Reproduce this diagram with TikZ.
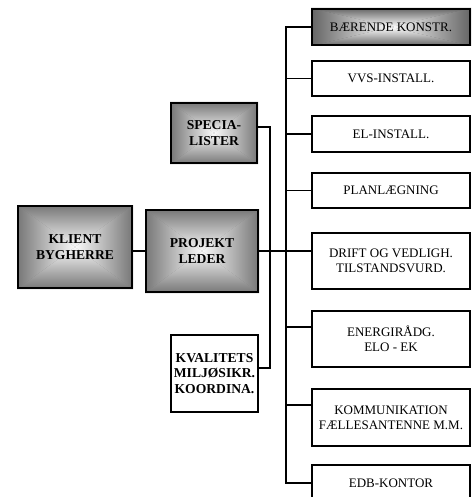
\documentclass[tikz,border=0pt]{standalone}
\usepackage{fontspec}
\setmainfont{Liberation Serif}
\usetikzlibrary{calc,backgrounds}
\definecolor{edgeg}{RGB}{118,118,118}
\definecolor{halfg}{RGB}{200,200,200}
\definecolor{midg}{RGB}{250,250,250}
\definecolor{edgeb}{RGB}{100,100,100}
\definecolor{halfb}{RGB}{192,192,192}
\definecolor{midb}{RGB}{253,253,253}
\newcommand\pyrshade[4]{%
  \begin{scope}[on background layer]
    \fill[#2] (#1.north west) rectangle (#1.south east);
    \shade[top color=#2, middle color=#3, bottom color=#4] (#1.north west) -- (#1.north east) -- (#1.center) -- cycle;
    \shade[bottom color=#2, middle color=#3, top color=#4] (#1.south west) -- (#1.south east) -- (#1.center) -- cycle;
    \shade[left color=#2, middle color=#3, right color=#4] (#1.north west) -- (#1.south west) -- (#1.center) -- cycle;
    \shade[right color=#2, middle color=#3, left color=#4] (#1.north east) -- (#1.south east) -- (#1.center) -- cycle;
  \end{scope}}
\begin{document}
\begin{tikzpicture}[x=1pt,y=-1pt,
  lbox/.style={draw, line width=2pt, inner sep=0pt, align=center,
    font=\fontsize{13.6}{15.5}\selectfont\bfseries},
  rbox/.style={draw, line width=2pt, inner sep=0pt, align=center,
    minimum width=158pt, font=\fontsize{13}{15}\selectfont},
  conn/.style={line width=1.7pt}]
\useasboundingbox (0,0) rectangle (472,497);
\clip (0,0) rectangle (472,497);
% left column
\node[lbox, minimum width=114pt, minimum height=82pt] (klient) at (75,247) {KLIENT\\BYGHERRE};
\node[lbox, minimum width=112pt, minimum height=82pt] (projekt) at (202,251) {PROJEKT\\LEDER};
\node[lbox, minimum width=86pt, minimum height=60pt] (specia) at (214,133) {SPECIA-\\LISTER};
\node[lbox, minimum width=87pt, minimum height=77pt] (kval) at (214.5,373.5) {KVALITETS\\MILJØSIKR.\\KOORDINA.};
% right column
\node[rbox, minimum height=36pt] (baer) at (391,27) {BÆRENDE KONSTR.};
\node[rbox, minimum height=35pt] (vvs) at (391,78.5) {VVS-INSTALL.};
\node[rbox, minimum height=36pt] (el) at (391,134) {EL-INSTALL.};
\node[rbox, minimum height=35pt] (plan) at (391,190.5) {PLANLÆGNING};
\node[rbox, minimum height=56pt] (drift) at (391,261) {DRIFT OG VEDLIGH.\\TILSTANDSVURD.};
\node[rbox, minimum height=56pt] (energi) at (391,339) {ENERGIRÅDG.\\ELO - EK};
\node[rbox, minimum height=57pt] (komm) at (391,417.5) {KOMMUNIKATION\\FÆLLESANTENNE M.M.};
\node[rbox, minimum height=36pt] (edb) at (391,483) {EDB-KONTOR};
% shading
\pyrshade{klient}{edgeg}{halfg}{midg}
\pyrshade{projekt}{edgeg}{halfg}{midg}
\pyrshade{specia}{edgeg}{halfg}{midg}
\pyrshade{baer}{edgeb}{halfb}{midb}
% connectors
\draw[conn] (projekt.west) -- (projekt.west -| klient.east);
\draw[conn] (projekt.east) -- (projekt.east -| drift.west);
\coordinate (sA) at ($(specia.north east)+(0,25)$);
\coordinate (kA) at ($(kval.north east)+(0,34)$);
\draw[conn] (sA) -- ++(12,0) |- (kA);
\draw[conn] (baer.west) -- ++(-25,0) |- (edb.west);
\draw[conn] (vvs.west) -- ++(-25,0);
\draw[conn] (el.west) -- ++(-25,0);
\draw[conn] (plan.west) -- ++(-25,0);
\draw[conn] ($(energi.north west)+(0,17)$) -- ++(-25,0);
\draw[conn] ($(komm.north west)+(0,17)$) -- ++(-25,0);
\end{tikzpicture}
\end{document}
